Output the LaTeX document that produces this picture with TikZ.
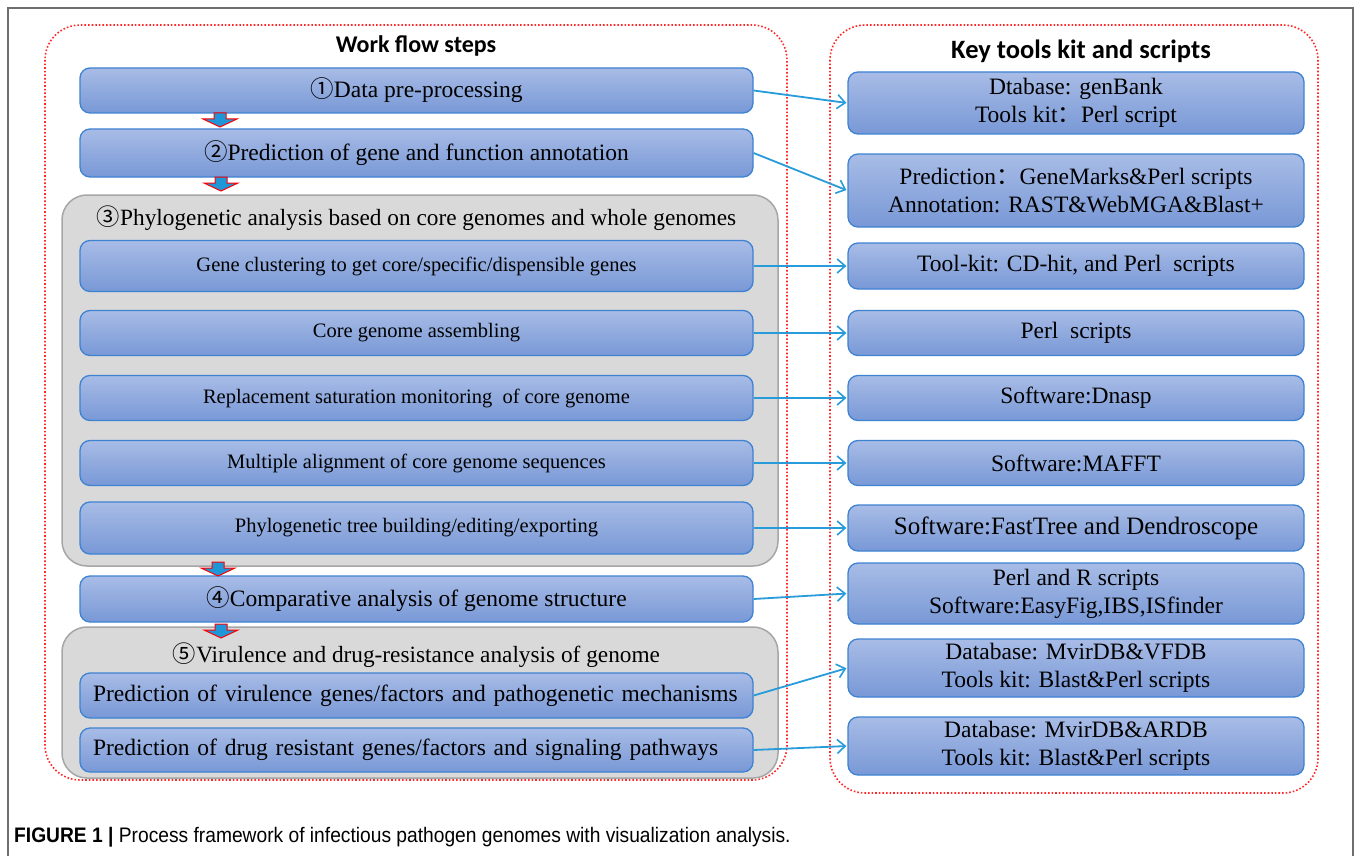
\documentclass[tikz,border=0pt]{standalone}
\usepackage{fontspec}
\setmainfont{Liberation Serif}
\newfontfamily\cjk{Noto Sans CJK SC}
\newfontfamily\headfont{Carlito}
\newfontfamily\capfont{Liberation Sans}
\usetikzlibrary{arrows.meta,calc}

\definecolor{boxtop}{RGB}{168,188,230}
\definecolor{boxbot}{RGB}{120,152,214}
\definecolor{boxline}{RGB}{62,130,210}
\definecolor{linkblue}{RGB}{40,155,218}
\definecolor{graybg}{RGB}{217,217,217}
\definecolor{grayline}{RGB}{166,166,166}
\definecolor{dotred}{RGB}{255,40,40}
\definecolor{downfill}{RGB}{30,150,215}
\definecolor{framegray}{RGB}{110,110,110}

% circled digits and full-width colons come from the CJK family
\newcommand\cn[1]{{\cjk #1}}
% small red-edged block arrow pointing down: centre x, top y
\newcommand\blockdown[2]{%
  \draw[downarr] (#1-6,#2) -- (#1+6,#2) -- (#1+6,#2+6) -- (#1+17,#2+6)
    -- (#1,#2+14) -- (#1-17,#2+6) -- (#1-6,#2+6) -- cycle;}

\tikzset{
  wbox/.style={draw=boxline, line width=1.3pt, rounded corners=10pt,
    top color=boxtop, bottom color=boxbot, inner sep=0pt,
    font=\fontsize{23.5}{28}\selectfont, align=center},
  lbox/.style={wbox, minimum width=673pt},
  smallbox/.style={lbox, font=\fontsize{20.5}{24}\selectfont},
  rbox/.style={wbox, minimum width=456pt},
  grp/.style={draw=grayline, fill=graybg, line width=1.5pt, rounded corners=25pt},
  reddot/.style={draw=dotred, dotted, line width=1.6pt, rounded corners=35pt},
  head/.style={font=\headfont\bfseries, inner sep=0pt, anchor=base},
  grptitle/.style={font=\fontsize{23.3}{28}\selectfont, inner sep=0pt},
  link/.style={draw=linkblue, line width=1.8pt,
    -{Straight Barb[length=8pt,width=14pt,line width=1.6pt]}, shorten >=1pt},
  downarr/.style={draw=red, line width=1pt, fill=downfill, line join=miter},
}

\begin{document}
\begin{tikzpicture}[x=1pt,y=-1pt]
\useasboundingbox (0,0) rectangle (1354,856);
\fill[white] (0,0) rectangle (1354,856);

% page frame
\draw[framegray, line width=1.4pt] (8,856) -- (8,8) -- (1353,8) -- (1353,856);

% two panels
\draw[reddot] (45,25) rectangle (787,780);
\draw[reddot] (830,25) rectangle (1318,793);

\node[head, font=\headfont\bfseries\fontsize{24}{28}\selectfont] (hl) at (416,53) {Work flow steps};
\node[head, font=\headfont\bfseries\fontsize{26.5}{30}\selectfont] (hr) at (1081,59) {Key tools kit and scripts};

% grouped steps
\draw[grp] (62,195) rectangle (778,566);
\draw[grp] (62,627) rectangle (778,778);

% work flow steps
\node[lbox, minimum height=45pt] (s1) at (416.5,90.5) {\cn{①}Data pre-processing};
\node[lbox, minimum height=48pt] (s2) at (416.5,153) {\cn{②}Prediction of gene and function annotation};

\node[grptitle] (g3) at (416.5,218) {\cn{③}Phylogenetic analysis based on core genomes and whole genomes};
\node[smallbox, minimum height=51pt] (s3a) at (416.5,266) {Gene clustering to get core/specific/dispensible genes};
\node[smallbox, minimum height=45pt] (s3b) at (416.5,333) {Core genome assembling};
\node[smallbox, minimum height=45pt] (s3c) at (416.5,398) {Replacement saturation monitoring\ \ of core genome};
\node[smallbox, minimum height=45pt] (s3d) at (416.5,463) {Multiple alignment of core genome sequences};
\node[smallbox, minimum height=52pt] (s3e) at (416.5,528) {Phylogenetic tree building/editing/exporting};

\node[lbox, minimum height=46pt] (s4) at (416.5,599) {\cn{④}Comparative analysis of genome structure};

\node[grptitle] (g5) at (416.5,655) {\cn{⑤}Virulence and drug-resistance analysis of genome};
\node[lbox, minimum height=45pt, text width=647pt, inner xsep=13pt, align=left] (s5a) at (416.5,695.5)
  {Prediction of virulence genes/factors and pathogenetic mechanisms};
\node[lbox, minimum height=44pt, text width=647pt, inner xsep=13pt, align=left] (s5b) at (416.5,750)
  {Prediction of drug resistant genes/factors and signaling pathways};

% key tools
\node[rbox, minimum height=62pt] (t1) at (1076,103) {Dtabase: genBank\\Tools kit\cn{：}Perl script};
\node[rbox, minimum height=73pt] (t2) at (1076,190.5) {Prediction\cn{：}GeneMarks\&Perl scripts\\Annotation: RAST\&WebMGA\&Blast+};
\node[rbox, minimum height=46pt] (t3) at (1076,266) {Tool-kit: CD-hit, and Perl\ \ scripts};
\node[rbox, minimum height=45pt] (t4) at (1076,333) {Perl\ \ scripts};
\node[rbox, minimum height=45pt] (t5) at (1076,398) {Software:Dnasp};
\node[rbox, minimum height=45pt] (t6) at (1076,463) {Software:MAFFT};
\node[rbox, minimum height=46pt, font=\fontsize{25}{28}\selectfont] (t7) at (1076,528) {Software:FastTree and Dendroscope};
\node[rbox, minimum height=61pt] (t8) at (1076,593.5) {Perl and R scripts\\Software:EasyFig,IBS,ISfinder};
\node[rbox, minimum height=58pt] (t9) at (1076,668) {Database: MvirDB\&VFDB\\Tools kit: Blast\&Perl scripts};
\node[rbox, minimum height=58pt] (t10) at (1076,746) {Database: MvirDB\&ARDB\\Tools kit: Blast\&Perl scripts};

% step order
\blockdown{220}{113}
\blockdown{221}{177}
\blockdown{218}{562}
\blockdown{221}{624}

% step to tool links
\draw[link] (s1.east) -- (t1.west);
\draw[link] (s2.east) -- (t2.west);
\draw[link] (s3a.east) -- (t3.west);
\draw[link] (s3b.east) -- (t4.west);
\draw[link] (s3c.east) -- (t5.west);
\draw[link] (s3d.east) -- (t6.west);
\draw[link] (s3e.east) -- (t7.west);
\draw[link] (s4.east) -- (t8.west);
\draw[link] (s5a.east) -- (t9.west);
\draw[link] (s5b.east) -- (t10.west);

% caption in a narrowed sans
\node[anchor=base west, inner sep=0pt] (cap) at (14,842)
  {\scalebox{0.915}[1]{\capfont\fontsize{21}{21}\selectfont\textbf{FIGURE 1 |} Process framework of infectious pathogen genomes with visualization analysis.}};
\end{tikzpicture}
\end{document}
